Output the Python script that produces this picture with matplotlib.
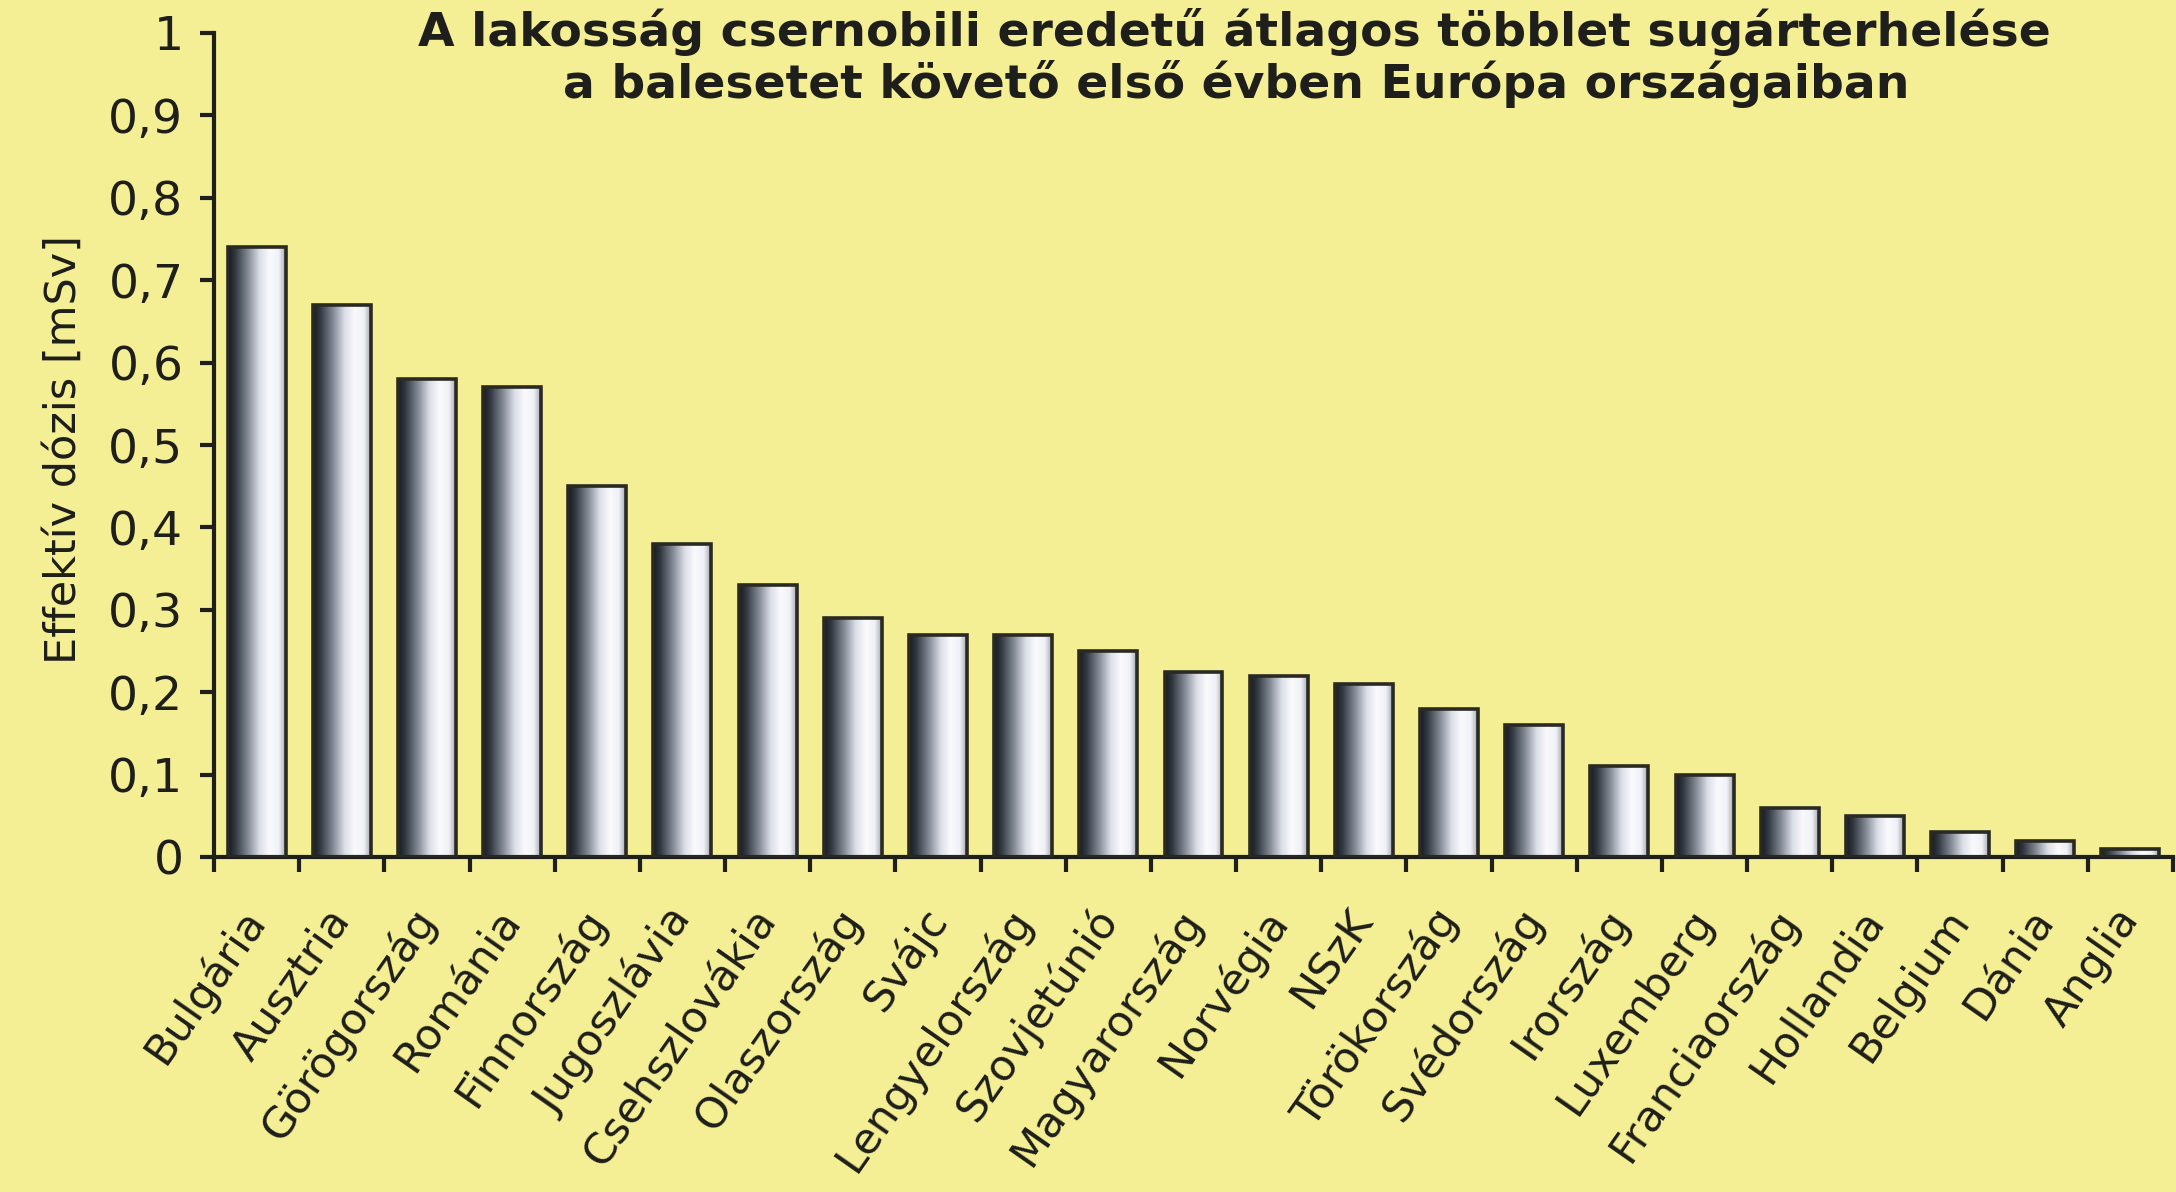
import numpy as np
import matplotlib.pyplot as plt
from matplotlib.colors import LinearSegmentedColormap

plt.rcParams['font.family'] = ['DejaVu Sans']

# Data
countries = ["Bulgária", "Ausztria", "Görögország", "Románia", "Finnország",
             "Jugoszlávia", "Csehszlovákia", "Olaszország", "Svájc",
             "Lengyelország", "Szovjetúnió", "Magyarország", "Norvégia", "NSzK",
             "Törökország", "Svédország", "Irország", "Luxemberg",
             "Franciaország", "Hollandia", "Belgium", "Dánia", "Anglia"]
dose = [0.74, 0.67, 0.58, 0.57, 0.45, 0.38, 0.33, 0.29, 0.27, 0.27, 0.25,
        0.225, 0.22, 0.21, 0.18, 0.16, 0.11, 0.10, 0.06, 0.05, 0.03, 0.02, 0.01]
yticks = [0, 0.1, 0.2, 0.3, 0.4, 0.5, 0.6, 0.7, 0.8, 0.9, 1.0]
ytick_labels = ["0", "0,1", "0,2", "0,3", "0,4", "0,5", "0,6", "0,7", "0,8", "0,9", "1"]
title_lines = ["A lakosság csernobili eredetű átlagos többlet sugárterhelése",
               "a balesetet követő első évben Európa országaiban"]
ylabel = "Effektív dózis [mSv]"

bg = '#f4ee94'
ink = '#1e1e1a'

# metallic cylinder look: dark left, white right, greyish at the very edge
metal = LinearSegmentedColormap.from_list('metal', [
    (0.0, '#161a22'), (0.12, '#30363f'), (0.35, '#868c97'),
    (0.55, '#dcdfe8'), (0.72, '#fafafd'), (0.88, '#f0f1f6'), (1.0, '#a3a7b0')])

fig = plt.figure(figsize=(21.76, 11.92), dpi=100)
fig.patch.set_facecolor(bg)
ax = fig.add_axes([214 / 2176, 1 - 857 / 1192, (2173 - 214) / 2176, (857 - 33) / 1192])
ax.set_facecolor(bg)

x = np.arange(len(countries))
bars = ax.bar(x, dose, width=0.68, facecolor='none', edgecolor='#2a2a22',
              linewidth=2.6, zorder=3)
grad = np.linspace(0, 1, 256).reshape(1, -1)
for b in bars:
    x0, w, h = b.get_x(), b.get_width(), b.get_height()
    im = ax.imshow(grad, cmap=metal, extent=(x0, x0 + w, 0, h),
                   aspect='auto', zorder=2, interpolation='bilinear')
    im.set_clip_path(b)

ax.set_xlim(-0.5, len(countries) - 0.5)
ax.set_ylim(0, 1)

for s in ['top', 'right']:
    ax.spines[s].set_visible(False)
for s in ['left', 'bottom']:
    ax.spines[s].set_linewidth(3)
    ax.spines[s].set_color(ink)

ax.set_yticks(yticks)
ax.set_yticklabels(ytick_labels)
ax.tick_params(axis='y', length=10, width=3, color=ink, labelsize=34,
               labelcolor=ink, pad=12)

ax.set_xticks(x)
ax.set_xticklabels(countries, rotation=55, ha='right', va='center',
                   rotation_mode='anchor')
ax.tick_params(axis='x', which='major', length=0, labelsize=31,
               labelcolor=ink, pad=40)
ax.set_xticks(np.arange(-0.5, len(countries)), minor=True)
ax.tick_params(axis='x', which='minor', length=11, width=3, color=ink)

ax.set_ylabel(ylabel, fontsize=31, color=ink)
ax.yaxis.set_label_coords(-0.066, 0.495)

fig.text(1234 / 2176, 1 - 46 / 1192, title_lines[0], ha='center', va='baseline',
         fontsize=34, fontweight='bold', color=ink)
fig.text(1236 / 2176, 1 - 98 / 1192, title_lines[1], ha='center', va='baseline',
         fontsize=34, fontweight='bold', color=ink)

fig.savefig('out.png', dpi=100, facecolor=bg)
